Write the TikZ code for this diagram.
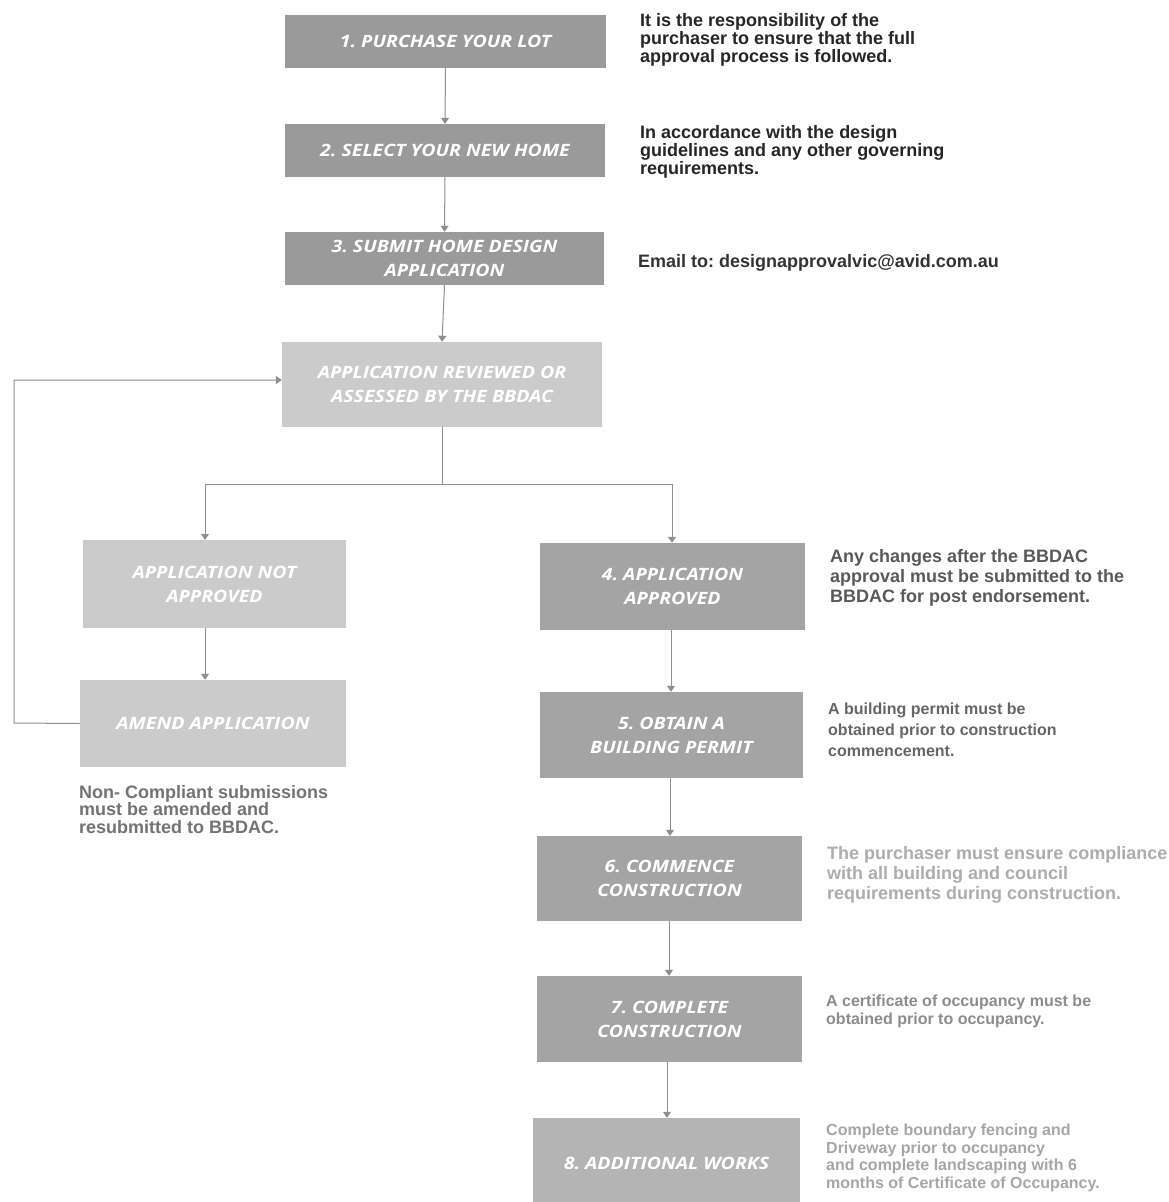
\documentclass[tikz,border=0pt]{standalone}
\usepackage{fontspec}
\setmainfont{Liberation Sans}
\newfontfamily\boxfont[FakeStretch=1.15]{Open Sans}
\usetikzlibrary{arrows.meta}
\definecolor{boxdark}{HTML}{9A9A9A}
\definecolor{boxmid}{HTML}{A4A4A4}
\definecolor{boxlight}{HTML}{CBCBCB}
\definecolor{boxeight}{HTML}{B4B4B4}
\definecolor{linegray}{HTML}{8E8E8E}
\frenchspacing
\begin{document}
\frenchspacing
\begin{tikzpicture}[x=1pt,y=-1pt,
  stepbox/.style={rectangle, inner sep=0pt, text=white, align=center,
    font=\boxfont\bfseries\itshape\fontsize{17}{24}\selectfont},
  darkbox/.style={stepbox, fill=boxdark},
  midbox/.style={stepbox, fill=boxmid},
  lightbox/.style={stepbox, fill=boxlight},
  note/.style={anchor=north west, align=left, inner sep=0pt,
    font=\bfseries\fontsize{18}{18}\selectfont},
  bignote/.style={note, font=\bfseries\fontsize{18}{20}\selectfont},
  smallnote/.style={note, font=\bfseries\fontsize{16}{18}\selectfont},
  flow/.style={draw=linegray, line width=1pt, -{Triangle[width=8pt,length=6pt]}},
  link/.style={draw=linegray, line width=1pt}]
\useasboundingbox (0,0) rectangle (1169,1202);
\fill[white] (0,0) rectangle (1169,1202);

\node[darkbox, minimum width=321, minimum height=53] (s1) at (445.5,41.5) {1. PURCHASE YOUR LOT};
\node[darkbox, minimum width=320, minimum height=53] (s2) at (445,150.5) {2. SELECT YOUR NEW HOME};
\node[darkbox, minimum width=319, minimum height=53] (s3) at (444.5,258.5) {3. SUBMIT HOME DESIGN\\APPLICATION};
\node[lightbox, minimum width=320, minimum height=85] (rev) at (442,384.5) {APPLICATION REVIEWED OR\\ASSESSED BY THE BBDAC};
\node[lightbox, minimum width=263, minimum height=88] (na) at (214.5,584) {APPLICATION NOT\\APPROVED};
\node[lightbox, minimum width=266, minimum height=87] (am) at (213,723.5) {AMEND APPLICATION};
\node[midbox, minimum width=265, minimum height=87] (s4) at (672.5,586.5) {4. APPLICATION\\APPROVED};
\node[midbox, minimum width=263, minimum height=86] (s5) at (671.5,735) {5. OBTAIN A\\BUILDING PERMIT};
\node[midbox, minimum width=265, minimum height=85] (s6) at (669.5,878.5) {6. COMMENCE\\CONSTRUCTION};
\node[midbox, minimum width=265, minimum height=86] (s7) at (669.5,1019) {7. COMPLETE\\CONSTRUCTION};
\node[stepbox, fill=boxeight, minimum width=267, minimum height=90] (s8) at (666.5,1163) {8. ADDITIONAL WORKS};

\coordinate (split) at (442,484);
\coordinate (splitL) at (205,484);
\coordinate (splitR) at (672,484);
\coordinate (loopB) at (14,723);
\coordinate (loopT) at (14,380);

\draw[flow] (s1.south) -- (s2.north);
\draw[flow] (s2.south) -- (s3.north);
\draw[flow] (s3.south) -- (rev.north);
\draw[link] (rev.south) -- (split);
\draw[link] (splitL) -- (splitR);
\draw[flow] (splitL) -- (splitL |- na.north);
\draw[flow] (splitR) -- (splitR |- s4.north);
\draw[flow] (splitL |- na.south) -- (splitL |- am.north);
\draw[flow] (am.west) -- (loopB) -- (loopT) -- (loopT -| rev.west);
\draw[flow] (s4.south -| 671,0) -- (s5.north -| 671,0);
\draw[flow] (s5.south -| 670,0) -- (s6.north -| 670,0);
\draw[flow] (s6.south -| 669,0) -- (s7.north -| 669,0);
\draw[flow] (s7.south -| 667,0) -- (s8.north -| 667,0);

\node[note, text=black!85] (n1) at (640,13) {It is the responsibility of the\\purchaser to ensure that the full\\approval process is followed.};
\node[note, text=black!85] (n2) at (640,125) {In accordance with the design\\guidelines and any other governing\\requirements.};
\node[note, text=black!80] (n3) at (638,254) {Email to: designapprovalvic@avid.com.au};
\node[bignote, text=black!65] (n4) at (830,549) {Any changes after the BBDAC\\approval must be submitted to the\\BBDAC for post endorsement.};
\node[smallnote, text=black!60, font=\bfseries\fontsize{16}{21}\selectfont] (n5) at (828,703) {A building permit must be\\obtained prior to construction\\commencement.};
\node[note, text=black!55, font=\bfseries\fontsize{18}{17.5}\selectfont] (nc) at (79,785) {Non- Compliant submissions\\must be amended and\\resubmitted to BBDAC.};
\node[bignote, text=black!32] (n6) at (827,846) {The purchaser must ensure compliance\\with all building and council\\requirements during construction.};
\node[smallnote, text=black!45] (n7) at (826,995) {A certificate of occupancy must be\\obtained prior to occupancy.};
\node[smallnote, text=black!35, font=\bfseries\fontsize{16}{17.5}\selectfont] (n8) at (826,1124) {Complete boundary fencing and\\Driveway prior to occupancy\\and complete landscaping with 6\\months of Certificate of Occupancy.};
\end{tikzpicture}
\end{document}
